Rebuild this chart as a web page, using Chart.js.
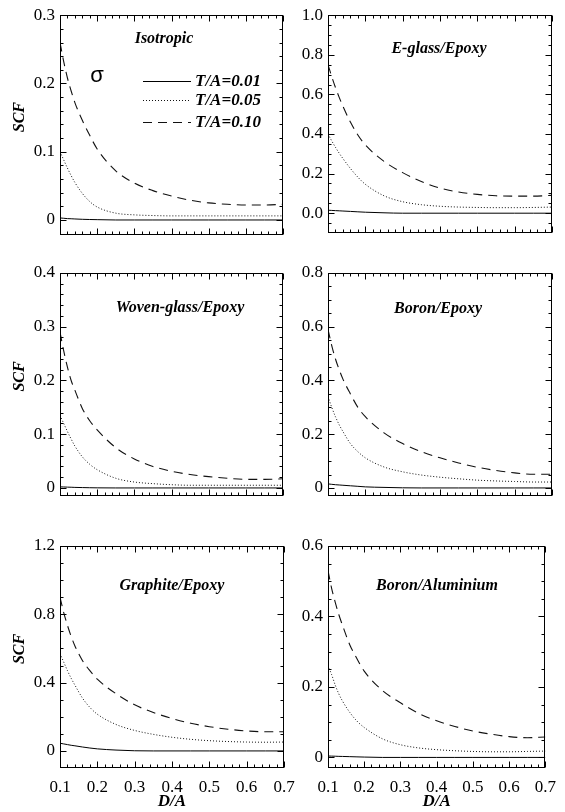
<!DOCTYPE html>
<html><head><meta charset="utf-8">
<script src="https://cdn.jsdelivr.net/npm/chart.js@4/dist/chart.umd.min.js"></script>
<style>
html,body{margin:0;padding:0;background:#fff;}
#wrap{position:relative;width:565px;height:812px;overflow:hidden;background:#fff;}
#wrap canvas{position:absolute;left:0;top:0;}
</style></head><body><div id="wrap"></div>
<script>
// ---------- data ----------
const dA = [0.1,0.11,0.12,0.13,0.14,0.16,0.18,0.2,0.25,0.3,0.35,0.4,0.45,0.5,0.55,0.6,0.65,0.7];
const seriesLabels = ['T/A=0.01','T/A=0.05','T/A=0.10'];
const xTickLabels = ['0.1','0.2','0.3','0.4','0.5','0.6','0.7'];

const isoSolid  = [0.003,0.0025,0.002,0.0018,0.0015,0.001,0.0007,0.0005,0,0,0,0,0,0,0,0,0,0];
const isoDotted = [0.100,0.088,0.076,0.065,0.055,0.039,0.027,0.019,0.010,0.0075,0.0065,0.006,0.006,0.006,0.006,0.006,0.006,0.006];
const isoDashed = [0.260,0.232,0.208,0.189,0.172,0.146,0.124,0.104,0.072,0.054,0.043,0.035,0.029,0.025,0.023,0.022,0.022,0.023];
const isoYTicks = ['0','0.1','0.2','0.3'];

const egSolid  = [0.015,0.014,0.013,0.012,0.011,0.009,0.007,0.005,0.002,0,0,0,0,0,0,0,0,0];
const egDotted = [0.40,0.365,0.333,0.303,0.276,0.226,0.182,0.146,0.088,0.058,0.043,0.035,0.031,0.029,0.028,0.028,0.029,0.031];
const egDashed = [0.75,0.69,0.635,0.585,0.54,0.46,0.395,0.345,0.262,0.205,0.16,0.127,0.107,0.095,0.088,0.086,0.086,0.090];
const egYTicks = ['0.0','0.2','0.4','0.6','0.8','1.0'];

const wgSolid  = [0.002,0.0018,0.0015,0.0013,0.001,0.0007,0.0004,0.0002,0,0,0,0,0,0,0,0,0,0];
const wgDotted = [0.135,0.12,0.105,0.091,0.078,0.058,0.044,0.034,0.018,0.011,0.008,0.006,0.005,0.005,0.005,0.005,0.005,0.005];
const wgDashed = [0.29,0.255,0.225,0.20,0.182,0.148,0.125,0.108,0.075,0.054,0.040,0.031,0.025,0.021,0.018,0.016,0.016,0.017];
const wgYTicks = ['0','0.1','0.2','0.3','0.4'];

const beSolid  = [0.015,0.0135,0.012,0.011,0.010,0.008,0.006,0.004,0.002,0.0005,0,0,0,0,0,0,0,0];
const beDotted = [0.34,0.30,0.265,0.235,0.21,0.165,0.135,0.112,0.078,0.060,0.048,0.040,0.034,0.029,0.026,0.024,0.022,0.022];
const beDashed = [0.59,0.53,0.48,0.44,0.405,0.35,0.30,0.265,0.205,0.165,0.135,0.112,0.093,0.077,0.065,0.056,0.051,0.051];
const beYTicks = ['0','0.2','0.4','0.6','0.8'];

const grSolid  = [0.045,0.041,0.037,0.033,0.030,0.023,0.017,0.012,0.005,0.001,0,0,0,0,0,0,0,0];
const grDotted = [0.57,0.52,0.47,0.425,0.385,0.31,0.255,0.215,0.155,0.12,0.097,0.08,0.068,0.06,0.055,0.052,0.051,0.052];
const grDashed = [0.90,0.81,0.735,0.67,0.615,0.53,0.47,0.42,0.335,0.27,0.225,0.19,0.162,0.142,0.127,0.117,0.112,0.112];
const grYTicks = ['0','0.4','0.8','1.2'];

const baSolid  = [0.004,0.0037,0.0034,0.003,0.0028,0.0022,0.0016,0.001,0,0,0,0,0,0,0,0,0,0];
const baDotted = [0.26,0.235,0.205,0.18,0.16,0.128,0.103,0.085,0.053,0.036,0.027,0.022,0.019,0.017,0.016,0.016,0.017,0.018];
const baDashed = [0.53,0.48,0.44,0.405,0.375,0.32,0.28,0.245,0.19,0.155,0.125,0.104,0.088,0.075,0.066,0.059,0.056,0.058];
const baYTicks = ['0','0.2','0.4','0.6'];

// ---------- layout ----------
const panels = [
  {title:'Isotropic',          series:[isoSolid,isoDotted,isoDashed], yTicks:isoYTicks, yMin:-0.022, yMax:0.3, yMinor:0.02,
   rect:[60,13,283,235],  titlePos:[164,39],  left:true,  bottom:false, legend:true},
  {title:'E-glass/Epoxy',      series:[egSolid,egDotted,egDashed],    yTicks:egYTicks,  yMin:-0.1,   yMax:1.0, yMinor:0.05,
   rect:[328,13,552,233], titlePos:[439,49],  left:false, bottom:false},
  {title:'Woven-glass/Epoxy',  series:[wgSolid,wgDotted,wgDashed],    yTicks:wgYTicks,  yMin:-0.015, yMax:0.4, yMinor:0.02,
   rect:[60,273,283,496], titlePos:[180,308], left:true,  bottom:false},
  {title:'Boron/Epoxy',        series:[beSolid,beDotted,beDashed],    yTicks:beYTicks,  yMin:-0.03,  yMax:0.8, yMinor:0.05,
   rect:[328,273,552,496],titlePos:[438,309], left:false, bottom:false},
  {title:'Graphite/Epoxy',     series:[grSolid,grDotted,grDashed],    yTicks:grYTicks,  yMin:-0.1,   yMax:1.2, yMinor:0.1,
   rect:[60,546,284,768], titlePos:[172,586], left:true,  bottom:true},
  {title:'Boron/Aluminium',    series:[baSolid,baDotted,baDashed],    yTicks:baYTicks,  yMin:-0.03,  yMax:0.6, yMinor:0.05,
   rect:[328,546,552,768],titlePos:[437,586], left:false, bottom:true}
];

const lineStyles = [
  {dash:[], width:1, color:'#000'},
  {dash:[1,2], width:1, color:'#111'},
  {dash:[9,6], width:1.1, color:'#111'}
];

const SERIF = '"Liberation Serif", "Times New Roman", serif';

const framePlugin = {
  id: 'frame',
  afterDatasetsDraw(chart, args, opts) {
    const {ctx, chartArea:a} = chart;
    const x = chart.scales.x, y = chart.scales.y;
    ctx.save();
    ctx.strokeStyle = '#000'; ctx.lineWidth = 1; ctx.setLineDash([]);
    const L = Math.round(a.left)+0.5, R = Math.round(a.right)-0.5;
    const T = Math.round(a.top)+0.5, B = Math.round(a.bottom)-0.5;
    ctx.strokeRect(L, T, R-L, B-T);
    ctx.beginPath();
    const yMaj = opts.yMajor;
    const yStep = opts.yMinor;
    for (let k = Math.ceil(y.min/yStep - 1e-6); k*yStep <= y.max + 1e-9; k++) {
      const v = k*yStep;
      const major = yMaj.some(m => Math.abs(m - v) < 1e-6);
      const len = major ? 6 : 3;
      const py = Math.round(y.getPixelForValue(v)) + 0.5;
      if (py < T || py > B) continue;
      ctx.moveTo(L, py); ctx.lineTo(L+len, py);
      ctx.moveTo(R, py); ctx.lineTo(R-len, py);
    }
    const xMaj = opts.xMajor;
    const xStep = 0.02;
    for (let k = Math.ceil(x.min/xStep - 1e-6); k*xStep <= x.max + 1e-9; k++) {
      const v = k*xStep;
      const major = xMaj.some(m => Math.abs(m - v) < 1e-6);
      const len = major ? 6 : 3;
      const px = Math.round(x.getPixelForValue(v)) + 0.5;
      ctx.moveTo(px, B); ctx.lineTo(px, B-len);
      ctx.moveTo(px, T); ctx.lineTo(px, T+len);
    }
    ctx.stroke();
    ctx.fillStyle = '#000';
    // y axis title
    if (opts.yTitle) {
      ctx.save();
      ctx.font = 'italic bold 16px ' + SERIF;
      ctx.textAlign = 'center'; ctx.textBaseline = 'middle';
      ctx.translate(20, (a.top + a.bottom) / 2 - 8);
      ctx.rotate(-Math.PI / 2);
      ctx.fillText(opts.yTitle, 0, 0);
      ctx.restore();
    }
    // panel title
    ctx.font = 'italic bold 16px ' + SERIF;
    ctx.textAlign = 'center'; ctx.textBaseline = 'middle';
    ctx.fillText(opts.title, opts.titleX, opts.titleY);
    // legend
    if (opts.legend) {
      ctx.font = '22px "Liberation Sans", Arial, sans-serif';
      ctx.fillText('\u03C3', 97, 76);
      const ys = [81, 100, 122];
      chart.data.datasets.forEach((ds, i) => {
        ctx.save();
        ctx.strokeStyle = ds.borderColor; ctx.lineWidth = ds.borderWidth;
        ctx.setLineDash(ds.borderDash || []);
        ctx.beginPath(); ctx.moveTo(143, ys[i]+0.5); ctx.lineTo(191, ys[i]+0.5); ctx.stroke();
        ctx.restore();
        ctx.font = 'italic bold 17px ' + SERIF;
        ctx.textAlign = 'left'; ctx.textBaseline = 'middle';
        ctx.fillText(ds.label, 195, ys[i]+1);
      });
    }
    ctx.restore();
  }
};

const wrap = document.getElementById('wrap');
panels.forEach((p, idx) => {
  const cv = document.createElement('canvas');
  cv.width = 565; cv.height = 812;
  cv.style.width = '565px'; cv.style.height = '812px';
  wrap.appendChild(cv);
  const [l, t, r, b] = p.rect;
  const yW = p.left ? 60 : 45;
  const xH = p.bottom ? 44 : 0;
  const yVals = p.yTicks.map(parseFloat);
  const xVals = xTickLabels.map(parseFloat);
  new Chart(cv, {
    type: 'line',
    data: {
      datasets: p.series.map((s, i) => ({
        label: seriesLabels[i],
        data: dA.map((xv, j) => ({x: xv, y: s[j]})),
        borderColor: lineStyles[i].color,
        borderWidth: lineStyles[i].width,
        borderDash: lineStyles[i].dash,
        pointRadius: 0,
        fill: false,
        cubicInterpolationMode: 'monotone'
      }))
    },
    options: {
      responsive: false, animation: false, devicePixelRatio: 1, events: [],
      layout: {padding: {left: l - yW, top: t, right: 565 - r, bottom: 812 - b - xH}},
      plugins: {
        legend: {display: false}, tooltip: {enabled: false}, title: {display: false},
        frame: {title: p.title, titleX: p.titlePos[0], titleY: p.titlePos[1], legend: !!p.legend,
                yTitle: p.left ? 'SCF' : '', yMajor: yVals, yMinor: p.yMinor, xMajor: xVals}
      },
      scales: {
        x: {
          type: 'linear', min: 0.1, max: 0.7,
          afterBuildTicks: s => { s.ticks = xVals.map(v => ({value: v})); },
          afterFit: s => { s.height = xH; },
          grid: {display: false, drawTicks: false},
          border: {display: false},
          ticks: {display: p.bottom, color: '#000', padding: 9, maxRotation: 0, autoSkip: false,
                  font: {family: SERIF, size: 17},
                  callback: (v) => xTickLabels[xVals.findIndex(q => Math.abs(q - v) < 1e-9)]},
          title: {display: p.bottom, text: 'D/A', color: '#000', padding: {top: 0, bottom: 0},
                  font: {family: SERIF, size: 17, style: 'italic', weight: 'bold'}}
        },
        y: {
          type: 'linear', min: p.yMin, max: p.yMax,
          afterBuildTicks: s => { s.ticks = yVals.map(v => ({value: v})); },
          afterFit: s => { s.width = yW; },
          grid: {display: false, drawTicks: false},
          border: {display: false},
          ticks: {color: '#000', padding: 5, autoSkip: false,
                  font: {family: SERIF, size: 17},
                  callback: (v) => p.yTicks[yVals.findIndex(q => Math.abs(q - v) < 1e-9)]},
          title: {display: false}
        }
      }
    },
    plugins: [framePlugin]
  });
});
</script></body></html>
